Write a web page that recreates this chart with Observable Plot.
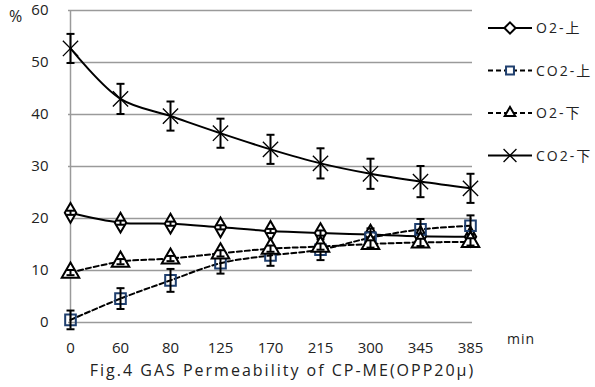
<!DOCTYPE html>
<html>
<head>
<meta charset="utf-8">
<script src="https://cdn.jsdelivr.net/npm/d3@7"></script>
<script src="https://cdn.jsdelivr.net/npm/@observablehq/plot@0.6"></script>
<style>
  body { margin: 0; background: #fff; font-family: "Open Sans", "Noto Sans CJK SC", sans-serif; }
  #wrap { position: relative; width: 595px; height: 387px; }
  .lbl { position: absolute; color: #222; font-size: 14px; letter-spacing: 1px; white-space: nowrap; }
</style>
</head>
<body>
<div id="wrap"></div>
<script>
const cats = ["0","60","80","125","170","215","300","345","385"];
const seriesNames = ["O2-上","CO2-上","O2-下","CO2-下"];
const o2Up     = [21.1,19.2,19.0,18.3,17.6,17.2,16.9,16.6,16.5];
const co2Up    = [0.5,4.6,8.1,11.4,12.9,14.0,16.3,17.9,18.6];
const o2Down   = [9.6,11.7,12.3,13.3,14.2,14.6,15.1,15.4,15.5];
const co2Down  = [52.7,43.0,39.7,36.4,33.3,30.6,28.6,27.1,25.8];
const o2UpErr   = [0.4,0.4,0.4,0.4,0.4,0.5,0.5,0.5,0.5];
const co2UpErr  = [1.8,2.0,2.2,2.0,2.0,2.0,1.8,2.0,2.0];
const o2DownErr = [0.5,0.5,0.5,0.6,0.6,0.6,0.7,0.7,0.7];
const co2DownErr= [2.8,2.9,2.8,2.8,2.8,2.9,2.9,3.0,2.8];
const yTicks = [0,10,20,30,40,50,60];

const styles = {
  "O2-上":  {symbol: "diamond", stroke: "#000", dash: null, r: 6},
  "CO2-上": {symbol: "square",  stroke: "#1f3f6e", dash: "5,3", r: 6},
  "O2-下":  {symbol: "triangle",stroke: "#000", dash: "5,3", r: 6.5},
  "CO2-下": {symbol: "times",   stroke: "#000", dash: null, r: 7}
};
const vals = {"O2-上": o2Up, "CO2-上": co2Up, "O2-下": o2Down, "CO2-下": co2Down};
const errs = {"O2-上": o2UpErr, "CO2-上": co2UpErr, "O2-下": o2DownErr, "CO2-下": co2DownErr};

const rows = seriesNames.flatMap(s => cats.map((c, i) => ({s, x: c, y: vals[s][i], e: errs[s][i]})));

const cap = { draw(ctx, size) { const w = 4; ctx.moveTo(-w, 0); ctx.lineTo(w, 0); } };

const marks = [
  Plot.gridY(yTicks, {stroke: "#9a9a9a", strokeOpacity: 1, strokeWidth: 1.5}),
  Plot.ruleX([cats[0]], {y1: 0, y2: 60, stroke: "#9a9a9a", strokeWidth: 1.5}),
  Plot.axisY(yTicks, {tickSize: 0, tickPadding: 20, fontSize: 15, fill: "#222", label: null, style: {letterSpacing: "1px"}}),
  Plot.axisX(cats, {tickSize: 0, tickPadding: 20, fontSize: 15, fill: "#222", label: null, style: {letterSpacing: "1.5px"}}),
];
for (const s of seriesNames) {
  const st = styles[s];
  const d = rows.filter(r => r.s === s);
  marks.push(Plot.line(d, {x: "x", y: "y", stroke: "#000", strokeWidth: 2, strokeDasharray: st.dash, curve: "catmull-rom"}));
}
for (const s of seriesNames) {
  const st = styles[s];
  const d = rows.filter(r => r.s === s);
  if (s !== "CO2-下" && s !== "O2-上") {
    marks.push(Plot.dot(d, {x: "x", y: "y", symbol: st.symbol, r: st.r, stroke: st.stroke, strokeWidth: 2, fill: s === "CO2-上" ? "none" : "#fff"}));
  } else {
    marks.push(Plot.dot(d, {x: "x", y: "y", symbol: st.symbol, r: st.r, stroke: st.stroke, strokeWidth: s === "CO2-下" ? 1.3 : 2, fill: "#fff"}));
  }
  marks.push(Plot.ruleX(d, {x: "x", y1: r => r.y - r.e, y2: r => r.y + r.e, stroke: "#000", strokeWidth: 2}));
  marks.push(Plot.dot(d, {x: "x", y: r => r.y + r.e, symbol: cap, stroke: "#000", strokeWidth: 2}));
  marks.push(Plot.dot(d, {x: "x", y: r => r.y - r.e, symbol: cap, stroke: "#000", strokeWidth: 2}));
}

const chart = Plot.plot({
  width: 595, height: 360,
  marginLeft: 68, marginRight: 123, marginTop: 10, marginBottom: 38,
  style: {fontFamily: "'Open Sans', sans-serif", background: "transparent", overflow: "visible"},
  x: {type: "point", domain: cats, padding: 0},
  y: {domain: [0, 60]},
  marks
});
const wrap = document.getElementById("wrap");
chart.style.position = "absolute"; chart.style.left = "0"; chart.style.top = "0";
wrap.appendChild(chart);

// legend
const leg = d3.select(wrap).append("svg").attr("width", 115).attr("height", 170)
  .style("position", "absolute").style("left", "480px").style("top", "10px");
const symMap = {diamond: d3.symbolDiamond2, square: d3.symbolSquare2, triangle: d3.symbolTriangle2, times: d3.symbolTimes};
seriesNames.forEach((s, i) => {
  const st = styles[s];
  const g = leg.append("g").attr("transform", `translate(0,${18 + i * 42.5})`);
  g.append("line").attr("x1", 8).attr("x2", 52).attr("stroke", "#000").attr("stroke-width", 2).attr("stroke-dasharray", st.dash);
  g.append("path").attr("transform", "translate(30,0)")
    .attr("d", d3.symbol(symMap[st.symbol], st.symbol === "times" ? 110 : 80)())
    .attr("fill", st.symbol === "times" ? "none" : "#fff").attr("stroke", st.stroke).attr("stroke-width", st.symbol === "times" ? 1.3 : 2);
  g.append("text").attr("x", 56).attr("y", 5).text(s).attr("font-size", 14).attr("letter-spacing", "2px").attr("fill", "#222")
    .attr("font-family", "'Open Sans','Noto Sans CJK SC',sans-serif");
});

function addLabel(text, left, top, size) {
  const el = document.createElement("div");
  el.className = "lbl"; el.textContent = text;
  el.style.left = left + "px"; el.style.top = top + "px";
  if (size) el.style.fontSize = size + "px";
  wrap.appendChild(el);
  return el;
}
addLabel("%", 9, 5, 16);
addLabel("min", 507, 329, 14);
const t = addLabel("Fig.4 GAS Permeability of CP-ME(OPP20μ)", 0, 359, 16);
t.style.width = "565px"; t.style.textAlign = "center"; t.style.letterSpacing = "2px";
</script>
</body>
</html>
